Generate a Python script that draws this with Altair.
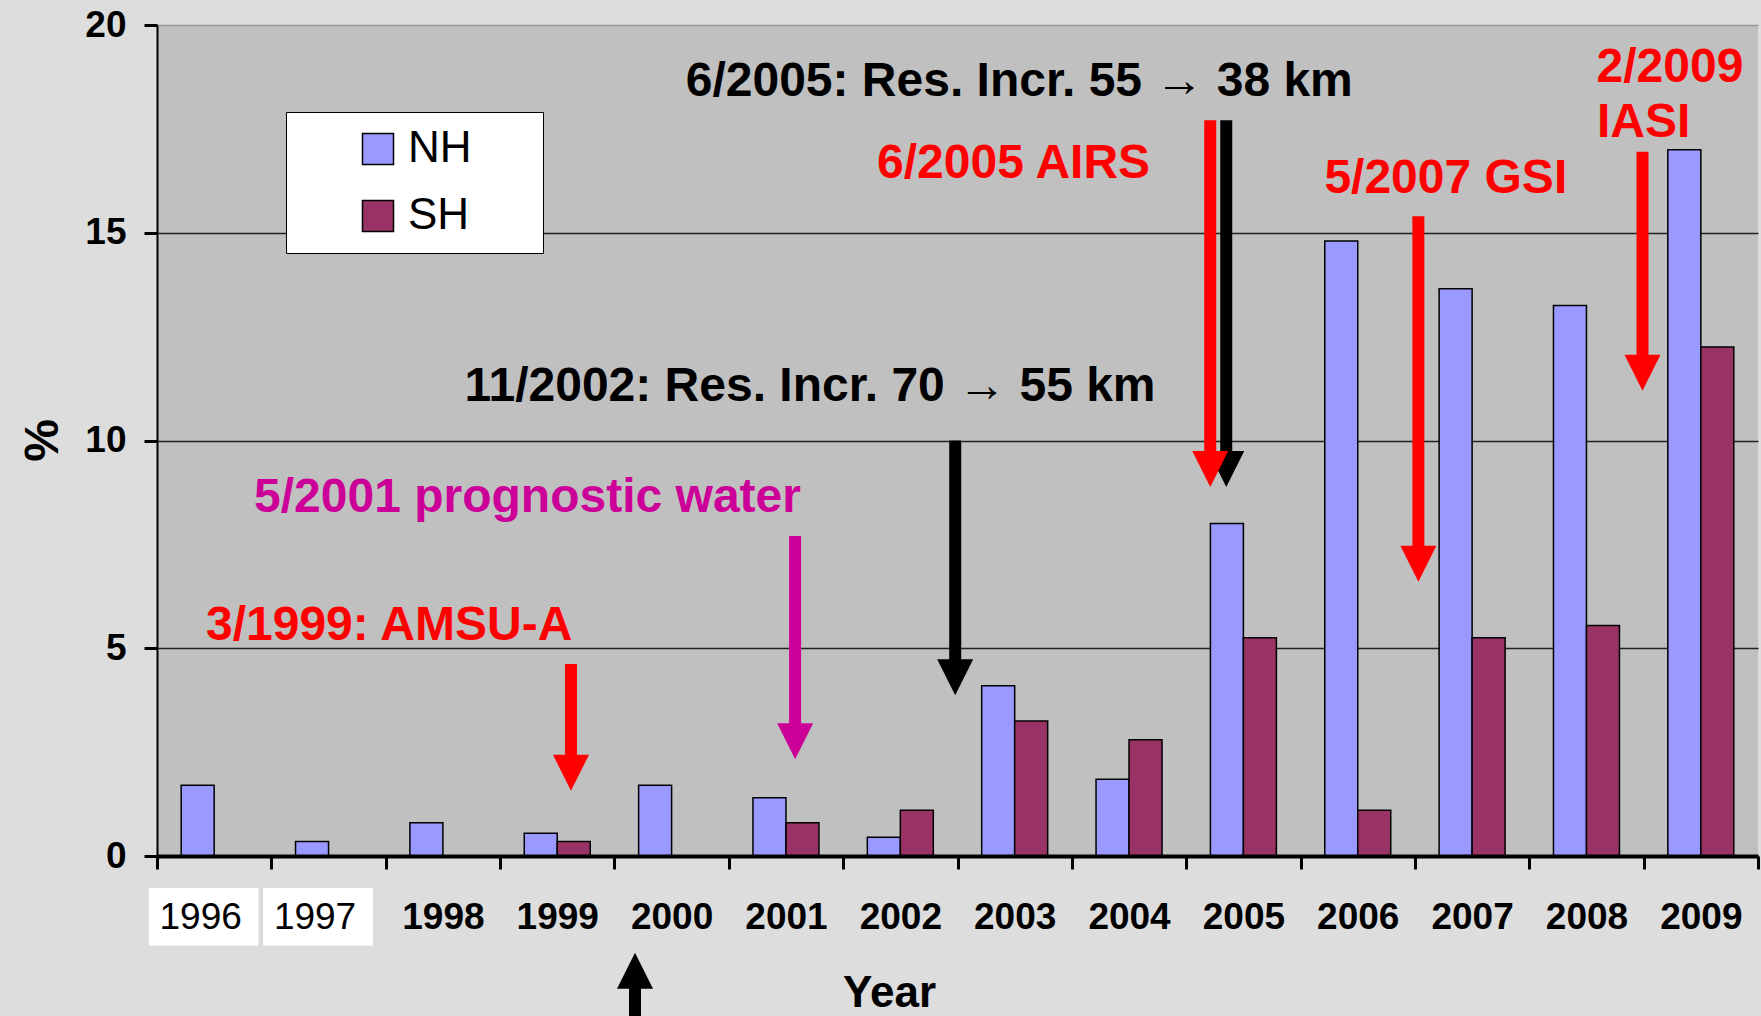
import altair as alt
import pandas as pd

# ---------------- data ----------------
years = [str(y) for y in range(1996, 2010)]
series = ["NH", "SH"]
nh = [1.7, 0.35, 0.8, 0.55, 1.7, 1.4, 0.45, 4.1, 1.85, 8.0, 14.8, 13.65, 13.25, 17.0]
sh = [0.0, 0.0, 0.0, 0.35, 0.0, 0.8, 1.1, 3.25, 2.8, 5.25, 1.1, 5.25, 5.55, 12.25]

# annotation texts (x in fractional years, y = text baseline in %)
ann_text = ["6/2005: Res. Incr. 55 \u2192 38 km", "6/2005 AIRS", "5/2007 GSI", "2/2009", "IASI",
            "11/2002: Res. Incr. 70 \u2192 55 km", "5/2001 prognostic water", "3/1999: AMSU-A"]
ann_x = [2003.04, 2002.99, 2006.77, 2008.73, 2008.50, 2001.21, 1998.74, 1997.53]
ann_y = [18.3, 16.32, 15.95, 18.62, 17.3, 10.95, 8.28, 5.2]
ann_kind = ["res", "inst", "inst", "inst", "inst", "res", "model", "inst"]

# arrows (x in fractional years, start and tip in %)
arrow_x = [1999.12, 2001.08, 2002.48, 2004.85, 2004.71, 2006.53, 2008.49, 1999.68]
arrow_top = [4.62, 7.70, 10.0, 17.71, 17.71, 15.4, 16.95, -4.2]
arrow_tip = [1.57, 2.33, 3.87, 8.88, 8.88, 6.6, 11.2, -2.33]
arrow_kind = ["inst", "model", "res", "res", "inst", "inst", "inst", "res"]

kinds = ["res", "inst", "model"]
kind_colors = ["#000000", "#FF0000", "#CC0099"]
series_colors = ["#9999FF", "#993366"]

boxed_years = ["1996", "1997"]
box_top = [-0.75, -0.75]
box_bottom = [-2.17, -2.17]

# ---------------- tables ----------------
bars_df = pd.DataFrame({
    "year": years * 2,
    "series": ["NH"] * len(years) + ["SH"] * len(years),
    "value": nh + sh,
})
ann_df = pd.DataFrame({"text": ann_text, "x": ann_x, "y": ann_y, "kind": ann_kind})
arrow_df = pd.DataFrame({"x": arrow_x, "top": arrow_top, "tip": arrow_tip, "kind": arrow_kind})
box_df = pd.DataFrame({"year": boxed_years, "top": box_top, "bottom": box_bottom})

FONT = "Liberation Sans"
yscale = alt.Scale(domain=[0, 20], nice=False, zero=False)
xband = alt.Scale(domain=years, paddingInner=0, paddingOuter=0)
kscale = alt.Scale(domain=kinds, range=kind_colors)

# fractional-year position mapped through the band scale "x"
xpos = alt.value({"expr": "scale('x', '1996') + (datum.x - 1995.5) * bandwidth('x')"})

boxed_test = "datum.value == '1996' || datum.value == '1997'"

x_axis = alt.Axis(
    title="Year", titleFont=FONT, titleFontSize=44, titleFontWeight="bold", titleColor="black",
    titleX=732, titleY=150, titleAlign="center", titleBaseline="alphabetic",
    labelFont=FONT, labelFontSize=37, labelColor="black", labelAngle=0, labelPadding=30,
    labelFontWeight={"condition": {"test": boxed_test, "value": "normal"}, "value": "bold"},
    labelOffset={"condition": {"test": boxed_test, "value": -14}, "value": 0},
    tickBand="extent", tickSize=13, tickWidth=3, tickColor="black",
    domainColor="black", domainWidth=4, grid=False, zindex=1,
)
y_axis = alt.Axis(
    title="%", titleFont=FONT, titleFontSize=48, titleFontWeight="bold", titleColor="black",
    titleX=-100, titleY=415, titleAlign="center", titleBaseline="alphabetic",
    values=[0, 5, 10, 15, 20], labelFont=FONT, labelFontSize=37, labelFontWeight="bold",
    labelColor="black", labelPadding=18, tickSize=13, tickWidth=3, tickColor="black",
    domainColor="black", domainWidth=2, grid=True, gridWidth=1.5,
    gridColor={"condition": {"test": "datum.value == 20", "value": "#999999"}, "value": "#222222"},
)

legend = alt.Legend(
    title=None, orient="none", legendX=129, legendY=87, fillColor="white", strokeColor="black",
    padding=15, symbolType="square", symbolSize=961, symbolStrokeColor="black",
    symbolStrokeWidth=1.5, symbolOffset=55, labelOffset=8, rowPadding=23,
    labelFont=FONT, labelFontSize=44, labelColor="black",
    labelExpr="datum.label + '\u2003\u00a0\u200b'",
)

bars = alt.Chart(bars_df).transform_filter("datum.value > 0").mark_bar(
    stroke="black", strokeWidth=1.5
).encode(
    x=alt.X("year:N", scale=xband, axis=x_axis, sort=years),
    xOffset=alt.XOffset("series:N", scale=alt.Scale(domain=series, paddingInner=0, paddingOuter=0.733)),
    y=alt.Y("value:Q", scale=yscale, axis=y_axis),
    color=alt.Color("series:N", scale=alt.Scale(domain=series, range=series_colors), legend=legend),
)

boxes = alt.Chart(box_df).mark_bar(
    fill="white", stroke="#d8d8d8", strokeWidth=1, width=111, xOffset=-10.5
).encode(
    x=alt.X("year:N", scale=xband, axis=x_axis, sort=years),
    y=alt.Y("top:Q", scale=yscale, axis=y_axis),
    y2="bottom:Q",
)

arrows_base = alt.Chart(arrow_df).transform_calculate(
    dir="datum.top > datum.tip ? 1 : -1",
    end="datum.tip + 0.6 * (datum.top > datum.tip ? 1 : -1)",
)

shafts = arrows_base.mark_rule(strokeWidth=12, strokeCap="butt").encode(
    x=xpos,
    y=alt.Y("top:Q", scale=yscale, axis=y_axis),
    y2="end:Q",
    stroke=alt.Stroke("kind:N", scale=kscale, legend=None),
)

heads_down = arrows_base.transform_filter("datum.dir > 0").mark_point(
    shape="M-1,-2L1,-2L0,0Z", filled=True, size=1296, opacity=1, strokeWidth=0
).encode(
    x=xpos,
    y=alt.Y("tip:Q", scale=yscale, axis=y_axis),
    fill=alt.Fill("kind:N", scale=kscale, legend=None),
)

heads_up = arrows_base.transform_filter("datum.dir < 0").mark_point(
    shape="M-1,2L1,2L0,0Z", filled=True, size=1296, opacity=1, strokeWidth=0
).encode(
    x=xpos,
    y=alt.Y("tip:Q", scale=yscale, axis=y_axis),
    fill=alt.Fill("kind:N", scale=kscale, legend=None),
)

texts = alt.Chart(ann_df).mark_text(
    font=FONT, fontSize=48, fontWeight="bold", align="center", baseline="alphabetic"
).encode(
    x=xpos,
    y=alt.Y("y:Q", scale=yscale, axis=y_axis),
    text="text:N",
    fill=alt.Fill("kind:N", scale=kscale, legend=None),
)

chart = alt.layer(bars, boxes, shafts, heads_down, heads_up, texts).properties(
    width=1601,
    height=831,
    autosize=alt.AutoSizeParams(type="none"),
    padding={"left": 157, "top": 25, "right": 3, "bottom": 160},
    background="#DDDDDD",
).configure(font=FONT).configure_view(
    fill="#C0C0C0", strokeWidth=0
)

chart.save("out.html", embed_options={"renderer": "svg", "actions": False})
